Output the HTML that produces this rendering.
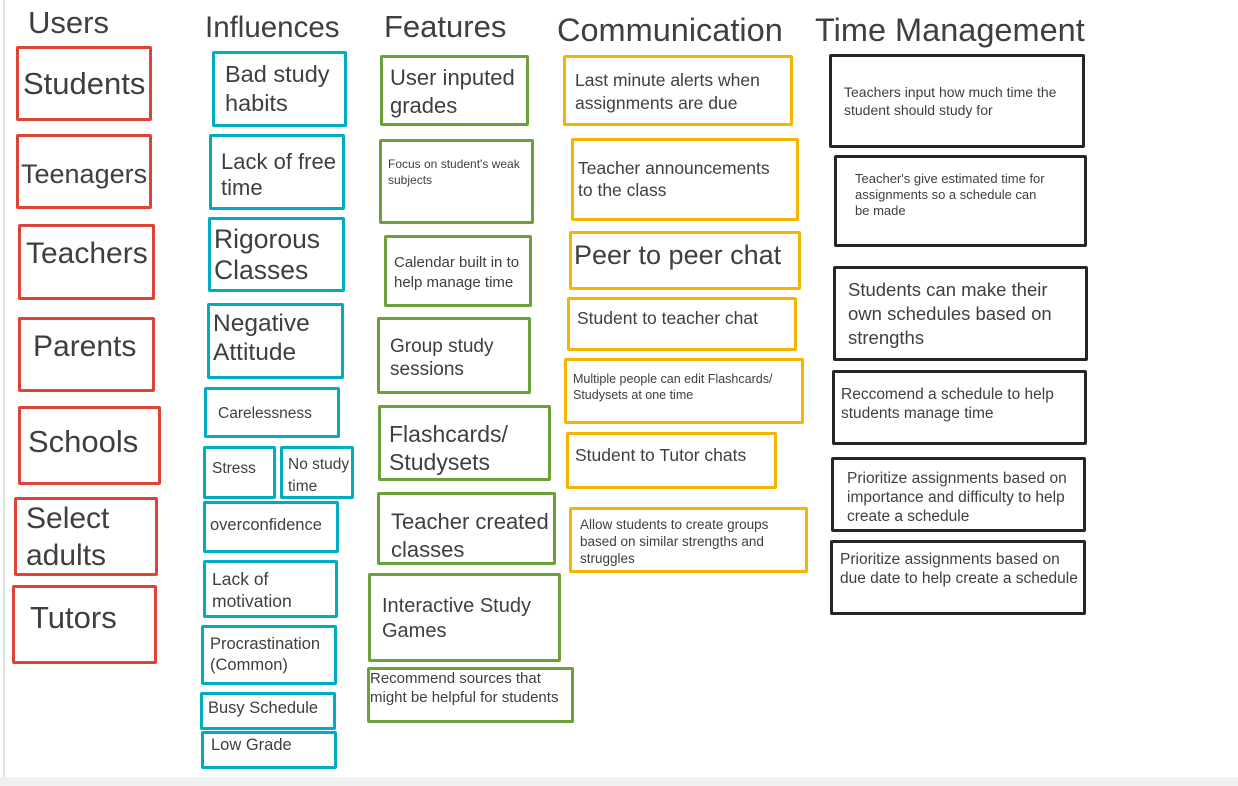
<!DOCTYPE html>
<html><head><meta charset="utf-8"><style>
html,body{margin:0;padding:0;}
body{width:1238px;height:786px;position:relative;background:#fff;overflow:hidden;font-family:"Liberation Sans",sans-serif;color:#3c4043;}
.b{position:absolute;box-sizing:border-box;border:3.5px solid;border-radius:2px;}
.r{border-color:#db4437;}.t{border-color:#00acc1;}.g{border-color:#6aa13b;}.y{border-color:#f4b400;}.k{border-color:#262626;}
.b span{position:absolute;white-space:nowrap;}
.h{position:absolute;white-space:nowrap;}
</style></head><body>
<div style="position:absolute;left:3px;top:0;width:2px;height:777px;background:#dfe1e5"></div>
<div style="position:absolute;left:0;top:777px;width:1238px;height:9px;background:#eef0f2"></div>

<div class="h" style="left:28px;top:5px;font-size:31px">Users</div>
<div class="h" style="left:205px;top:11px;font-size:29.5px">Influences</div>
<div class="h" style="left:384px;top:9px;font-size:31px">Features</div>
<div class="h" style="left:557px;top:12px;font-size:32.5px">Communication</div>
<div class="h" style="left:815px;top:12px;font-size:32.5px">Time Management</div>

<!-- Users -->
<div class="b r" style="left:16px;top:46px;width:136px;height:75px"><span style="left:4px;top:17px;font-size:31px">Students</span></div>
<div class="b r" style="left:16px;top:134px;width:136px;height:75px"><span style="left:2px;top:22px;font-size:27px">Teenagers</span></div>
<div class="b r" style="left:18px;top:224px;width:137px;height:76px"><span style="left:5px;top:10px;font-size:30px">Teachers</span></div>
<div class="b r" style="left:18px;top:317px;width:137px;height:75px"><span style="left:12px;top:10px;font-size:30px">Parents</span></div>
<div class="b r" style="left:18px;top:406px;width:143px;height:79px"><span style="left:7px;top:15px;font-size:31px">Schools</span></div>
<div class="b r" style="left:14px;top:497px;width:144px;height:79px"><span style="left:9px;top:0px;font-size:30px;line-height:37px">Select<br>adults</span></div>
<div class="b r" style="left:12px;top:585px;width:145px;height:79px"><span style="left:15px;top:12px;font-size:31px">Tutors</span></div>

<!-- Influences -->
<div class="b t" style="left:212px;top:51px;width:135px;height:76px"><span style="left:10px;top:6px;font-size:23.5px;line-height:29px">Bad study<br>habits</span></div>
<div class="b t" style="left:209px;top:134px;width:136px;height:76px"><span style="left:9px;top:12px;font-size:22px;line-height:26px">Lack of free<br>time</span></div>
<div class="b t" style="left:208px;top:217px;width:137px;height:75px"><span style="left:3px;top:4px;font-size:26.5px;line-height:31px">Rigorous<br>Classes</span></div>
<div class="b t" style="left:207px;top:303px;width:137px;height:76px"><span style="left:3px;top:3px;font-size:24.5px;line-height:29px">Negative<br>Attitude</span></div>
<div class="b t" style="left:204px;top:387px;width:136px;height:51px"><span style="left:11px;top:15px;font-size:15.5px">Carelessness</span></div>
<div class="b t" style="left:203px;top:446px;width:73px;height:53px"><span style="left:6px;top:11px;font-size:15.5px">Stress</span></div>
<div class="b t" style="left:280px;top:446px;width:74px;height:53px"><span style="left:5px;top:5px;font-size:15.5px;line-height:22px">No study<br>time</span></div>
<div class="b t" style="left:203px;top:501px;width:136px;height:52px"><span style="left:4px;top:12px;font-size:16.5px">overconfidence</span></div>
<div class="b t" style="left:203px;top:560px;width:135px;height:58px"><span style="left:6px;top:5px;font-size:17.5px;line-height:22px">Lack of<br>motivation</span></div>
<div class="b t" style="left:201px;top:625px;width:136px;height:60px"><span style="left:6px;top:6px;font-size:16.5px;line-height:21px">Procrastination<br>(Common)</span></div>
<div class="b t" style="left:200px;top:692px;width:136px;height:38px"><span style="left:5px;top:4px;font-size:16.5px">Busy Schedule</span></div>
<div class="b t" style="left:201px;top:731px;width:136px;height:38px"><span style="left:7px;top:2px;font-size:16.5px">Low Grade</span></div>

<!-- Features -->
<div class="b g" style="left:380px;top:55px;width:149px;height:71px"><span style="left:7px;top:6px;font-size:22px;line-height:28px">User inputed<br>grades</span></div>
<div class="b g" style="left:379px;top:139px;width:155px;height:85px"><span style="left:6px;top:14px;font-size:12px;line-height:16px">Focus on student's weak<br>subjects</span></div>
<div class="b g" style="left:384px;top:235px;width:148px;height:72px"><span style="left:7px;top:15px;font-size:15px;line-height:20px">Calendar built in to<br>help manage time</span></div>
<div class="b g" style="left:377px;top:317px;width:154px;height:77px"><span style="left:10px;top:15px;font-size:19px;line-height:23px">Group study<br>sessions</span></div>
<div class="b g" style="left:378px;top:405px;width:173px;height:76px"><span style="left:8px;top:12px;font-size:23px;line-height:28px">Flashcards/<br>Studysets</span></div>
<div class="b g" style="left:377px;top:492px;width:179px;height:73px"><span style="left:11px;top:13px;font-size:22px;line-height:28px">Teacher created<br>classes</span></div>
<div class="b g" style="left:368px;top:573px;width:193px;height:89px"><span style="left:11px;top:18px;font-size:20px;line-height:25px">Interactive Study<br>Games</span></div>
<div class="b g" style="left:367px;top:667px;width:207px;height:56px"><span style="left:0px;top:-1px;font-size:15px;line-height:19px">Recommend sources that<br>might be helpful for students</span></div>

<!-- Communication -->
<div class="b y" style="left:563px;top:55px;width:230px;height:71px"><span style="left:9px;top:11px;font-size:17.5px;line-height:23px">Last minute alerts when<br>assignments are due</span></div>
<div class="b y" style="left:571px;top:138px;width:228px;height:83px"><span style="left:4px;top:16px;font-size:17.5px;line-height:22px">Teacher announcements<br>to the class</span></div>
<div class="b y" style="left:569px;top:231px;width:232px;height:59px"><span style="left:2px;top:6px;font-size:27px">Peer to peer chat</span></div>
<div class="b y" style="left:567px;top:297px;width:230px;height:54px"><span style="left:7px;top:8px;font-size:17.5px">Student to teacher chat</span></div>
<div class="b y" style="left:564px;top:358px;width:240px;height:66px"><span style="left:6px;top:10px;font-size:12.5px;line-height:16px">Multiple people can edit Flashcards/<br>Studysets at one time</span></div>
<div class="b y" style="left:566px;top:432px;width:211px;height:57px"><span style="left:6px;top:10px;font-size:17.5px">Student to Tutor chats</span></div>
<div class="b y" style="left:569px;top:507px;width:239px;height:66px"><span style="left:8px;top:6px;font-size:13.5px;line-height:17px">Allow students to create groups<br>based on similar strengths and<br>struggles</span></div>

<!-- Time management -->
<div class="b k" style="left:829px;top:54px;width:256px;height:94px"><span style="left:12px;top:26px;font-size:14px;line-height:18px">Teachers input how much time the<br>student should study for</span></div>
<div class="b k" style="left:834px;top:155px;width:253px;height:92px"><span style="left:18px;top:13px;font-size:13px;line-height:16px">Teacher's give estimated time for<br>assignments so a schedule can<br>be made</span></div>
<div class="b k" style="left:833px;top:266px;width:255px;height:95px"><span style="left:12px;top:9px;font-size:18.5px;line-height:24px">Students can make their<br>own schedules based on<br>strengths</span></div>
<div class="b k" style="left:832px;top:370px;width:255px;height:75px"><span style="left:6px;top:12px;font-size:15.5px;line-height:19px">Reccomend a schedule to help<br>students manage time</span></div>
<div class="b k" style="left:831px;top:457px;width:255px;height:75px"><span style="left:13px;top:9px;font-size:15.5px;line-height:19px">Prioritize assignments based on<br>importance and difficulty to help<br>create a schedule</span></div>
<div class="b k" style="left:830px;top:540px;width:256px;height:75px"><span style="left:7px;top:7px;font-size:15.5px;line-height:19px">Prioritize assignments based on<br>due date to help create a schedule</span></div>
</body></html>
